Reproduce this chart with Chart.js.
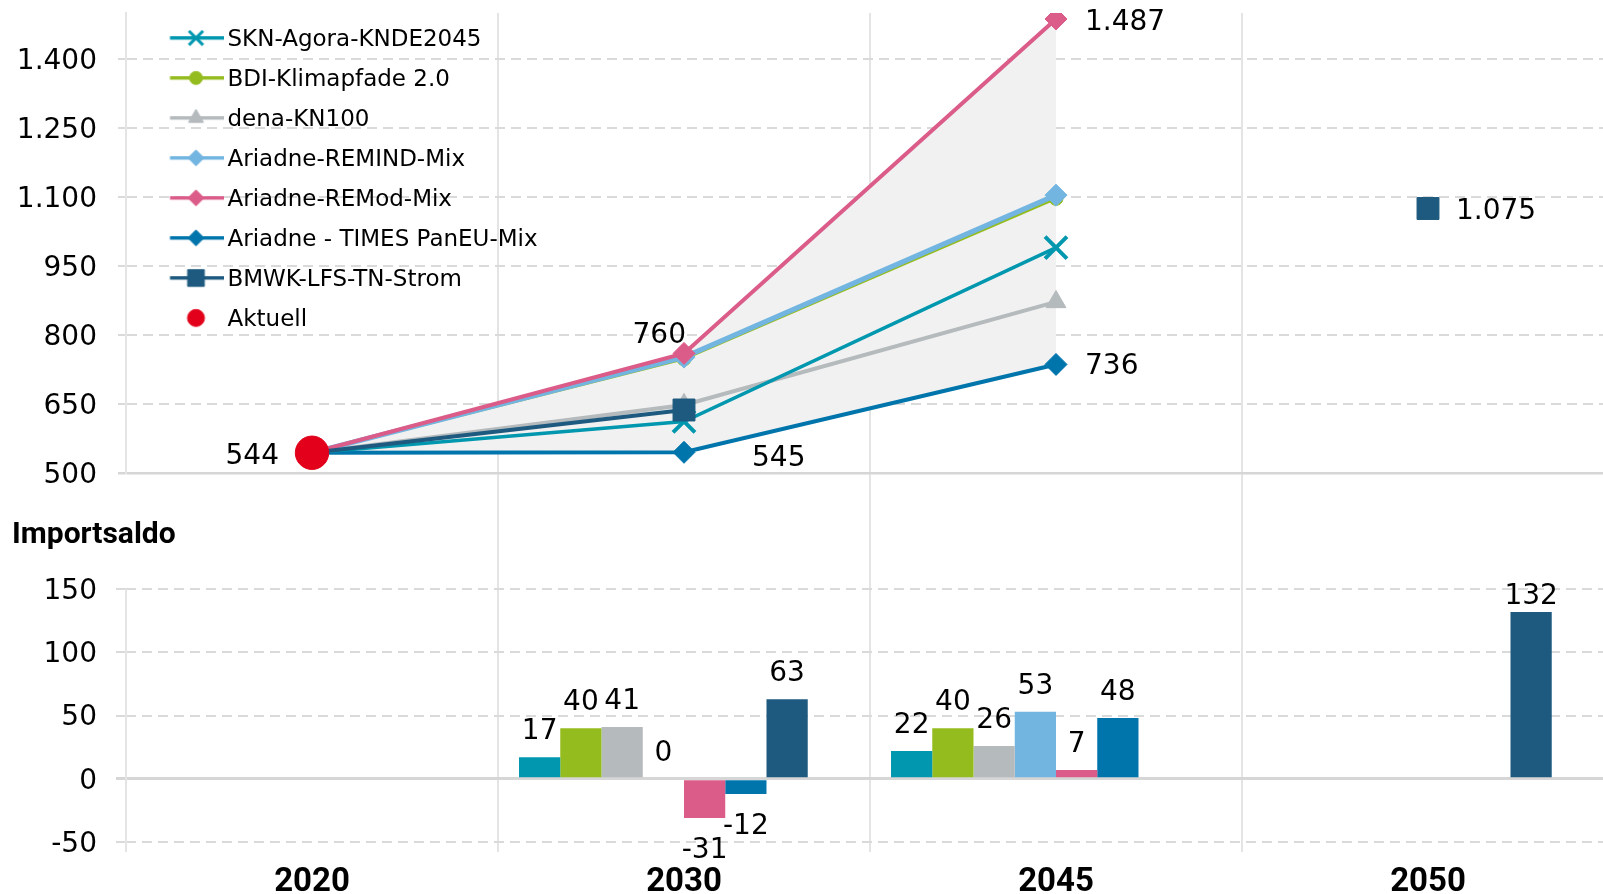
<!DOCTYPE html>
<html>
<head>
<meta charset="utf-8">
<title>Strombedarf und Importsaldo</title>
<script src="https://cdn.jsdelivr.net/npm/chart.js"></script>
<style>
  html, body { margin: 0; padding: 0; background: #fff; overflow: hidden; }
  #wrap { position: relative; width: 1603px; height: 894px; overflow: hidden; }
  #chart { position: absolute; left: 0; top: 0; }
  #importTitle { position: absolute; left: 12px; top: 517px; font: bold 30px Roboto, sans-serif; line-height: 32px; color: #000; }
</style>
</head>
<body>
<div id="wrap">
  <canvas id="chart" width="1614" height="894"></canvas>
  <div id="importTitle">Importsaldo</div>
</div>
<script>
  // categories and scenario names
  const years = ['2020', '2030', '2045', '2050'];
  const names = [
    'SKN-Agora-KNDE2045',
    'BDI-Klimapfade 2.0',
    'dena-KN100',
    'Ariadne-REMIND-Mix',
    'Ariadne-REMod-Mix',
    'Ariadne - TIMES PanEU-Mix',
    'BMWK-LFS-TN-Strom',
    'Aktuell'
  ];

  // Bruttostrombedarf (TWh), upper panel
  const bedarfSKN = [544, 612, 990, null];
  const bedarfBDI = [544, 748, 1097, null];
  const bedarfDena = [544, 648, 872, null];
  const bedarfREMIND = [544, 752, 1104, null];
  const bedarfREMod = [544, 760, 1487, null];
  const bedarfTIMES = [544, 545, 736, null];
  const bedarfBMWK = [544, 637, null, 1075];
  const bedarfAktuell = [544, null, null, null];

  // Importsaldo (TWh), lower panel
  const importSKN = [null, 17, 22, null];
  const importBDI = [null, 40, 40, null];
  const importDena = [null, 41, 26, null];
  const importREMIND = [null, 0, 53, null];
  const importREMod = [null, -31, 7, null];
  const importTIMES = [null, -12, 48, null];
  const importBMWK = [null, 63, null, 132];
  const importAktuell = [null, null, null, null];

  // tick labels
  const bedarfTicks = [500, 650, 800, 950, 1100, 1250, 1400];
  const importTicks = [-50, 0, 50, 100, 150];

  const FONT = '"DejaVu Sans", sans-serif';
  const BOLD = 'Roboto, sans-serif';
  const TEXT = '#000';
  const GRID = '#dadada';
  const VGRID = '#e4e4e4';
  const TEXT_SHIFT = 2.5; // canvas 'middle' sits a bit high for this font
  const LEGEND_SHIFT = 2.2;

  const colors = ['#0097af', '#95bc1f', '#b5babd', '#72b5e0', '#db5c89', '#0075ac', '#1e5a7f', '#e2001a'];
  const markers = ['crossRot', 'circle', 'triangle', 'rectRot', 'rectRot', 'rectRot', 'rect', 'circle'];
  const markerSizes = [15.5, 7, 11.5, 11, 11, 11, 15.5, 16.7];
  const lineWidths = [3.5, 3, 4, 5, 4, 4, 4, 0];
  const drawOrder = [5, 4, 6, 3, 2, 7, 1, 0];

  const bedarf = [bedarfSKN, bedarfBDI, bedarfDena, bedarfREMIND, bedarfREMod, bedarfTIMES, bedarfBMWK, bedarfAktuell];
  const imports = [importSKN, importBDI, importDena, importREMIND, importREMod, importTIMES, importBMWK, importAktuell];

  function fmt(v) {
    return String(v).replace(/\B(?=(\d{3})+(?!\d))/g, '.');
  }

  // small line + marker swatch for the legend (Excel style)
  function legendIcon(i) {
    var c = document.createElement('canvas');
    c.width = 88;
    c.height = 34;
    var g = c.getContext('2d');
    var cy = 17 - LEGEND_SHIFT;
    if (i < 7) {
      g.strokeStyle = colors[i];
      g.lineWidth = 3.5;
      g.beginPath();
      g.moveTo(34.5, cy);
      g.lineTo(88, cy);
      g.stroke();
    }
    var r = [10, 6.5, 8.7, 8, 8, 8, 11.8, 8.5][i];
    g.fillStyle = colors[i];
    g.strokeStyle = colors[i];
    g.lineWidth = markers[i] === 'crossRot' ? 3 : 1;
    Chart.helpers.drawPoint(g, { pointStyle: markers[i], radius: r, rotation: 0, borderWidth: 1 }, 60.5, cy);
    return c;
  }

  var icons = names.map((n, i) => legendIcon(i));

  var datasets = [];

  names.forEach((name, i) => {
    var ds = {
      type: 'line',
      label: name,
      data: bedarf[i],
      yAxisID: 'y',
      order: drawOrder[i],
      borderColor: colors[i],
      backgroundColor: colors[i],
      pointBackgroundColor: colors[i],
      pointBorderColor: colors[i],
      borderWidth: lineWidths[i],
      pointStyle: markers[i],
      pointRadius: markerSizes[i],
      pointHoverRadius: markerSizes[i],
      pointBorderWidth: markers[i] === 'crossRot' ? 4 : 1,
      showLine: i < 7,
      spanGaps: false,
      tension: 0,
      fill: false
    };
    // shaded range between highest and lowest scenario
    if (name === 'Ariadne-REMod-Mix') {
      ds.fill = { target: 5 };
      ds.backgroundColor = '#f1f1f1';
    }
    datasets.push(ds);
  });

  names.forEach((name, i) => {
    datasets.push({
      type: 'bar',
      label: name,
      data: imports[i],
      yAxisID: 'y2',
      order: 20 + i,
      backgroundColor: colors[i],
      borderWidth: 0,
      barPercentage: 1,
      categoryPercentage: 0.887
    });
  });

  const lineLabels = {
    id: 'lineLabels',
    afterDatasetsDraw(chart, args, opts) {
      var ctx = chart.ctx;
      ctx.save();
      ctx.font = '28px ' + FONT;
      ctx.fillStyle = TEXT;
      ctx.textBaseline = 'middle';
      opts.items.forEach(it => {
        var di = chart.data.datasets.findIndex(d => d.type === 'line' && d.label === it.label);
        var el = chart.getDatasetMeta(di).data[it.index];
        var v = chart.data.datasets[di].data[it.index];
        ctx.textAlign = it.align;
        ctx.fillText(fmt(v), el.x + it.dx, el.y + it.dy + TEXT_SHIFT);
      });
      ctx.restore();
    }
  };

  const barLabels = {
    id: 'barLabels',
    afterDatasetsDraw(chart) {
      var ctx = chart.ctx;
      var y2 = chart.scales.y2;
      var topLimit = y2.getPixelForValue(importTicks[importTicks.length - 1]) + 5;
      ctx.save();
      ctx.font = '28px ' + FONT;
      ctx.fillStyle = TEXT;
      ctx.textAlign = 'center';
      ctx.textBaseline = 'middle';
      chart.data.datasets.forEach((ds, di) => {
        if (ds.type !== 'bar') return;
        chart.getDatasetMeta(di).data.forEach((el, k) => {
          var v = ds.data[k];
          if (v === null || v === undefined) return;
          var y = v >= 0 ? Math.max(el.y - 28, topLimit) : el.y + 30;
          ctx.fillText(fmt(v), el.x, y + TEXT_SHIFT);
        });
      });
      ctx.restore();
    }
  };

  // left axis line of the import panel, only over its tick range
  const importAxis = {
    id: 'importAxis',
    beforeDatasetsDraw(chart) {
      var ctx = chart.ctx;
      var area = chart.chartArea;
      var y2 = chart.scales.y2;
      ctx.save();
      ctx.strokeStyle = VGRID;
      ctx.lineWidth = 2;
      ctx.beginPath();
      ctx.moveTo(area.left, y2.getPixelForValue(importTicks[importTicks.length - 1]));
      ctx.lineTo(area.left, area.bottom);
      ctx.stroke();
      ctx.restore();
    }
  };

  function fixLeft(scale) {
    scale.width = 126;
    scale.paddingTop = 0;
    scale.paddingBottom = 0;
  }

  new Chart(document.getElementById('chart'), {
    type: 'bar',
    data: { labels: years, datasets: datasets },
    plugins: [importAxis, lineLabels, barLabels],
    options: {
      responsive: false,
      animation: false,
      devicePixelRatio: 1,
      events: [],
      layout: { autoPadding: false, padding: { top: 13, left: 0, right: 0, bottom: 0 } },
      scales: {
        x: {
          type: 'category',
          offset: true,
          grid: { offset: true, color: c => c.index === 0 ? 'rgba(0,0,0,0)' : VGRID, lineWidth: 2, drawTicks: false },
          border: { display: false },
          ticks: { color: '#000', font: { family: BOLD, size: 33, weight: 'bold' }, padding: 11, maxRotation: 0 },
          afterFit: s => { s.height = 42; }
        },
        y: {
          type: 'linear',
          position: 'left',
          stack: 'panels',
          stackWeight: 460,
          weight: 2,
          min: 500,
          max: 1500,
          afterBuildTicks: s => { s.ticks = bedarfTicks.map(v => ({ value: v })); },
          afterFit: fixLeft,
          ticks: { color: TEXT, font: { family: FONT, size: 28 }, padding: 21, labelOffset: TEXT_SHIFT, callback: v => fmt(v) },
          grid: {
            color: c => c.tick && c.tick.value === 500 ? '#d6d6d6' : GRID,
            lineWidth: c => c.tick && c.tick.value === 500 ? 2.5 : 2,
            tickLength: 8,
            tickBorderDash: [10, 6]
          },
          border: { display: true, color: VGRID, width: 2, dash: c => c.tick && c.tick.value === 500 ? [] : [10, 6] }
        },
        y2: {
          type: 'linear',
          position: 'left',
          stack: 'panels',
          stackWeight: 379,
          weight: 1,
          min: -58,
          max: 242,
          afterBuildTicks: s => { s.ticks = importTicks.map(v => ({ value: v })); },
          afterFit: fixLeft,
          ticks: { color: TEXT, font: { family: FONT, size: 28 }, padding: 19, labelOffset: TEXT_SHIFT, callback: v => fmt(v) },
          grid: {
            color: c => c.tick && c.tick.value === 0 ? '#d6d6d6' : GRID,
            lineWidth: c => c.tick && c.tick.value === 0 ? 3 : 2,
            tickLength: 10,
            tickBorderDash: [10, 6]
          },
          border: { display: false, dash: c => c.tick && c.tick.value === 0 ? [] : [10, 6] }
        }
      },
      plugins: {
        filler: { drawTime: 'beforeDatasetsDraw' },
        tooltip: { enabled: false },
        legend: {
          position: 'chartArea',
          align: 'start',
          // empty title only pushes the entries down inside the plot
          title: { display: true, text: '', padding: 0, font: { size: 9.7 } },
          labels: {
            usePointStyle: true,
            pointStyleWidth: 73,
            padding: 17,
            color: TEXT,
            font: { family: FONT, size: 23 },
            generateLabels: chart => Chart.defaults.plugins.legend.labels.generateLabels(chart)
              .filter(item => chart.data.datasets[item.datasetIndex].type === 'line')
              .sort((a, b) => a.datasetIndex - b.datasetIndex)
              .map(item => Object.assign(item, { pointStyle: icons[item.datasetIndex], rotation: 0, fontColor: TEXT }))
          }
        },
        lineLabels: {
          items: [
            { label: 'Aktuell', index: 0, align: 'right', dx: -33, dy: 1 },
            { label: 'Ariadne-REMod-Mix', index: 1, align: 'right', dx: 2, dy: -20 },
            { label: 'Ariadne - TIMES PanEU-Mix', index: 1, align: 'left', dx: 68, dy: 4 },
            { label: 'Ariadne-REMod-Mix', index: 2, align: 'left', dx: 29, dy: 1 },
            { label: 'Ariadne - TIMES PanEU-Mix', index: 2, align: 'left', dx: 29, dy: 0 },
            { label: 'BMWK-LFS-TN-Strom', index: 3, align: 'left', dx: 28, dy: 1 }
          ]
        }
      }
    }
  });
</script>
</body>
</html>
